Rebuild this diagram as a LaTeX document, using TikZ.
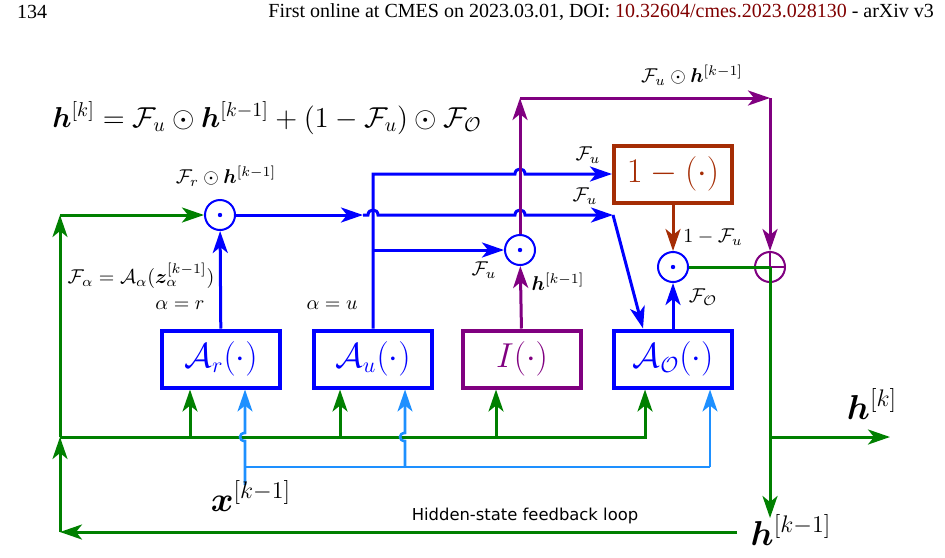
\documentclass[tikz,border=0pt]{standalone}
\usepackage{amsmath,bm}
\usepackage{fontspec}
\usetikzlibrary{arrows.meta,calc}
\newfontfamily\hdrfont{Liberation Serif}
\newfontfamily\loopfont{DejaVu Sans}
\definecolor{cgreen}{RGB}{0,128,0}
\definecolor{cblue}{RGB}{0,0,255}
\definecolor{cpurple}{RGB}{128,0,128}
\definecolor{crust}{RGB}{165,45,5}
\definecolor{clblue}{RGB}{30,144,255}
\definecolor{doired}{RGB}{128,0,0}
\tikzset{
    >={Stealth[length=11pt,width=7.5pt,inset=3pt]},
    gline/.style={cgreen, line width=1.5pt},
    bline/.style={cblue, line width=1.5pt},
    pline/.style={cpurple, line width=1.5pt},
    rline/.style={crust, line width=1.5pt},
    lbline/.style={clblue, line width=1.3pt},
    gatebox/.style={draw=#1, text=#1, line width=2pt, minimum width=59pt, minimum height=28.5pt, inner sep=0pt, font=\fontsize{16}{18}\selectfont},
    odot/.style={circle, draw=#1, line width=1pt, minimum size=15pt, inner sep=0pt,
        path picture={\fill[#1] (path picture bounding box.center) circle (1.1pt);}},
    oplus/.style={circle, draw=cpurple, line width=1pt, minimum size=15pt, inner sep=0pt,
        path picture={\draw[cpurple, line width=0.8pt]
            (path picture bounding box.north) -- (path picture bounding box.south)
            (path picture bounding box.west) -- (path picture bounding box.east);}},
}
\begin{document}
\begin{tikzpicture}[x=0.5pt, y=-0.5pt]
    \useasboundingbox (0,0) rectangle (945,557);
    % header line
    \node[anchor=west, font=\hdrfont] (page) at (10,12) {134};
    \node[anchor=east, font=\hdrfont] (header) at (941,12) {First online at CMES on 2023.03.01, DOI: \textcolor{doired}{10.32604/cmes.2023.028130} - arXiv v3};
    \node[font=\Large] (eq) at (267,118) {$\bm{h}^{[k]} = \mathcal{F}_u \odot \bm{h}^{[k-1]} + (1-\mathcal{F}_u)\odot\mathcal{F}_{\mathcal{O}}$};

    % gates
    \node[gatebox=cblue] (Ar) at (221,359) {$\mathcal{A}_r(\cdot)$};
    \node[gatebox=cblue] (Au) at (373,359) {$\mathcal{A}_u(\cdot)$};
    \node[gatebox=cpurple] (Id) at (522,359) {$I(\cdot)$};
    \node[gatebox=cblue] (AO) at (673,359) {$\mathcal{A}_{\mathcal{O}}(\cdot)$};
    \node[gatebox=crust, font=\LARGE] (onem) at (673,174) {$1-(\cdot)$};
    \node[odot=cblue] (cr) at (220,215) {};
    \node[odot=cblue] (cf) at (520,250) {};
    \node[odot=cblue] (co) at (673,267) {};
    \node[oplus] (plus) at (770,267) {};

    \coordinate (fbR) at (737,532);
    \coordinate (fbL) at (60,532);
    \coordinate (busL) at (60,437);
    \coordinate (topL) at (60,215);
    \coordinate (jA) at (363,215);
    \coordinate (kink) at (613,215);
    \coordinate (topP) at (520,98);
    \coordinate (cornerP) at (770,98);
    \coordinate (hdown) at (770,518);
    \coordinate (hright) at (890,437);
    \coordinate (xs) at (245,485);

    % green
    \draw[gline,->] (fbR) -- (fbL);
    \draw[gline,->] (fbL) -- (busL);
    \draw[gline,->] (busL) -- (topL);
    \draw[gline,->] (topL) -- (cr);
    \draw[gline,->] (busL) -| ([xshift=-14pt]AO.south);
    \draw[gline,->] ([xshift=-15.5pt]Ar.south |- busL) -- ([xshift=-15.5pt]Ar.south);
    \draw[gline,->] ([xshift=-16.5pt]Au.south |- busL) -- ([xshift=-16.5pt]Au.south);
    \draw[gline,->] ([xshift=-13pt]Id.south |- busL) -- ([xshift=-13pt]Id.south);
    \draw[gline] (co) -- (plus.center);
    \draw[gline,->] (plus.center) -- (hdown);
    \draw[gline,->] (plus |- busL) -- (hright);

    % blue
    \draw[bline,->] (Ar) -- (cr);
    \draw[bline,->] (cr) -- (jA);
    \draw[bline,->] (jA) -- (368,215) .. controls (368,208.3) and (378,208.3) .. (378,215)
        -- (515,215) .. controls (515,208.3) and (525,208.3) .. (525,215) -- (kink);
    \draw[bline,->] (kink) -- ([xshift=-15pt]AO.north);
    \draw[bline,->] (Au.north) -- (Au.north |- onem.west) -- (515,174)
        .. controls (515,167.3) and (525,167.3) .. (525,174) -- (onem.west);
    \draw[bline,->] (Au.north |- cf) -- (cf);
    \draw[bline,->] (AO) -- (co);

    % purple
    \draw[pline,->] (Id) -- (cf);
    \draw[pline,->] (cf) -- (topP);
    \draw[pline,->] (topP) -- (cornerP);
    \draw[pline,->] (cornerP) -- (plus);

    % rust
    \draw[rline,->] (onem) -- (co);

    % light blue
    \draw[lbline,->] (xs) -- (245,441) .. controls (238.3,441) and (238.3,433) .. (245,433) -- ([xshift=12pt]Ar.south);
    \draw[lbline] (245,467) -- (710,467);
    \draw[lbline,->] (405,467) -- (405,441) .. controls (398.3,441) and (398.3,433) .. (405,433) -- ([xshift=16pt]Au.south);
    \draw[lbline,->] (710,467) -- ([xshift=18.5pt]AO.south);

    % labels
    \node (lFrh) at (226,176) {$\mathcal{F}_r\odot\bm{h}^{[k-1]}$};
    \node (lFa) at (141,276) {$\mathcal{F}_\alpha=\mathcal{A}_\alpha(\bm{z}_\alpha^{[k-1]})$};
    \node (lar) at (180,305) {$\alpha=r$};
    \node (lau) at (332,305) {$\alpha=u$};
    \node (lFu1) at (588,155) {$\mathcal{F}_u$};
    \node (lFu2) at (585,196) {$\mathcal{F}_u$};
    \node (lFu3) at (484,270) {$\mathcal{F}_u$};
    \node (lh1) at (558,282) {$\bm{h}^{[k-1]}$};
    \node (l1mFu) at (713,237) {$1-\mathcal{F}_u$};
    \node (lFO) at (703,297) {$\mathcal{F}_{\mathcal{O}}$};
    \node (lFuh) at (692,75) {$\mathcal{F}_u\odot\bm{h}^{[k-1]}$};
    \node[font=\LARGE] (lhk) at (872,404) {$\bm{h}^{[k]}$};
    \node[font=\LARGE] (lhkm) at (791,530) {$\bm{h}^{[k-1]}$};
    \node[font=\LARGE] (lx) at (251,496) {$\bm{x}^{[k-1]}$};
    \node[font=\loopfont\fontsize{8.2}{10}\selectfont] (lloop) at (525,516) {Hidden-state feedback loop};
\end{tikzpicture}
\end{document}
